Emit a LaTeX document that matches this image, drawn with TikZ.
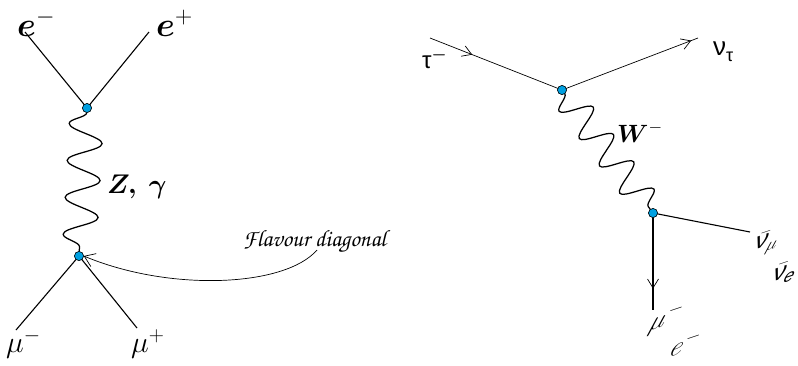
\RequirePackage{fix-cm}
\documentclass[tikz,border=0pt]{standalone}
\usepackage{bm}
\usepackage{fontspec}
\newfontfamily\grk{Liberation Sans}
\usetikzlibrary{arrows.meta,decorations.pathmorphing,decorations.markings}
\definecolor{vtx}{RGB}{0,160,225}
\tikzset{
  fermion/.style={line width=1.1pt},
  thinline/.style={line width=0.7pt},
  boson/.style={line width=1.25pt, decorate},
  vertexdot/.style={circle, fill=vtx, draw=black, line width=0.5pt, inner sep=0pt, minimum size=9pt},
  midarrow/.style={postaction={decorate}, decoration={markings, mark=at position #1 with {\arrow{Straight Barb[length=9pt,width=11pt,line width=0.7pt]}}}},
  lbl/.style={inner sep=0pt},
  squashed/.style={inner sep=0pt, rotate=-45, xscale=0.5, rotate=45}
}
\begin{document}
\begin{tikzpicture}[x=1pt,y=-1pt]
\path[use as bounding box] (0,0) rectangle (798,365);
% ---------- left diagram ----------
\coordinate (em) at (25,32);
\coordinate (ep) at (149,32);
\coordinate (mm) at (16,330);
\coordinate (mp) at (137,328);
\node[vertexdot] (v1) at (87,108) {};
\node[vertexdot] (v2) at (79,256) {};
\draw[fermion] (em) -- (v1.center);
\draw[fermion] (ep) -- (v1.center);
\draw[fermion] (mm) -- (v2.center);
\draw[fermion] (mp) -- (v2.center);
\draw[boson, decoration={snake, mirror, amplitude=17pt, segment length=37pt}] (v1) -- (v2);
\node[vertexdot] at (v1) {};
\node[vertexdot] at (v2) {};
\node[lbl, anchor=base west, font=\fontsize{34}{38}\selectfont] (lem) at (17,36) {$\bm{e}^{-}$};
\node[lbl, anchor=base west, font=\fontsize{34}{38}\selectfont] (lep) at (156,36) {$\bm{e}^{+}$};
\node[lbl, anchor=base west, font=\fontsize{30}{34}\selectfont] (lmm) at (6,352) {$\mu^{-}$};
\node[lbl, anchor=base west, font=\fontsize{30}{34}\selectfont] (lmp) at (131,352) {$\mu^{+}$};
\node[lbl, anchor=base west, font=\fontsize{27}{30}\selectfont] (lz) at (107,193) {$\bm{Z}\bm{,}\;\bm{\gamma}$};
\node[lbl, anchor=base west, font=\fontsize{23.5}{26}\fontencoding{T1}\fontfamily{pzc}\selectfont] (fd) at (243,246) {Flavour diagonal};
\coordinate (fds) at (317,250);
\draw[thinline, -{Straight Barb[length=10pt,width=14pt,line width=0.7pt]}] (fds) .. controls (285,287) and (170,292) .. (v2.east);
% ---------- right diagram ----------
\coordinate (tau) at (430,38);
\coordinate (nut) at (698,38);
\coordinate (mue) at (653,310);
\coordinate (nub) at (750,232);
\node[vertexdot] (w1) at (562,90) {};
\node[vertexdot] (w2) at (653,213) {};
\draw[thinline, midarrow=0.32] (tau) -- (w1.center);
\draw[thinline, midarrow=0.95] (w1.center) -- (nut);
\draw[boson, decoration={snake, mirror, amplitude=15pt, segment length=34pt}] (w1) -- (w2);
\draw[fermion, midarrow=0.78] (w2.center) -- (mue);
\draw[fermion] (w2.center) -- (nub);
\node[vertexdot] at (w1) {};
\node[vertexdot] at (w2) {};
\node[lbl, anchor=base west, font=\fontsize{24}{28}\selectfont\grk] (ltau) at (422,68) {τ$^{\bm{-}}$};
\node[lbl, anchor=base west, font=\fontsize{26}{30}\selectfont\grk] (lnut) at (713,55) {ν\raisebox{-6pt}{\fontsize{18}{20}\selectfont τ}};
\node[lbl, anchor=base west, font=\fontsize{25}{28}\selectfont] (lw) at (617,142) {$\bm{W}^{-}$};
\node[squashed, font=\fontsize{36}{40}\selectfont] (lmu) at (666,319) {$\mu^{-}$};
\node[squashed, font=\fontsize{36}{40}\selectfont] (le) at (686,343) {$e^{-}$};
\node[squashed, font=\fontsize{34}{38}\selectfont\grk] (lnm) at (767,243) {$\bar{\mbox{ν}}$\raisebox{-7pt}{\fontsize{24}{26}\selectfont$\mu$}};
\node[squashed, font=\fontsize{34}{38}\selectfont\grk] (lne) at (785,273) {$\bar{\mbox{ν}}$\raisebox{-7pt}{\fontsize{24}{26}\selectfont\itshape e}};
\end{tikzpicture}
\end{document}
